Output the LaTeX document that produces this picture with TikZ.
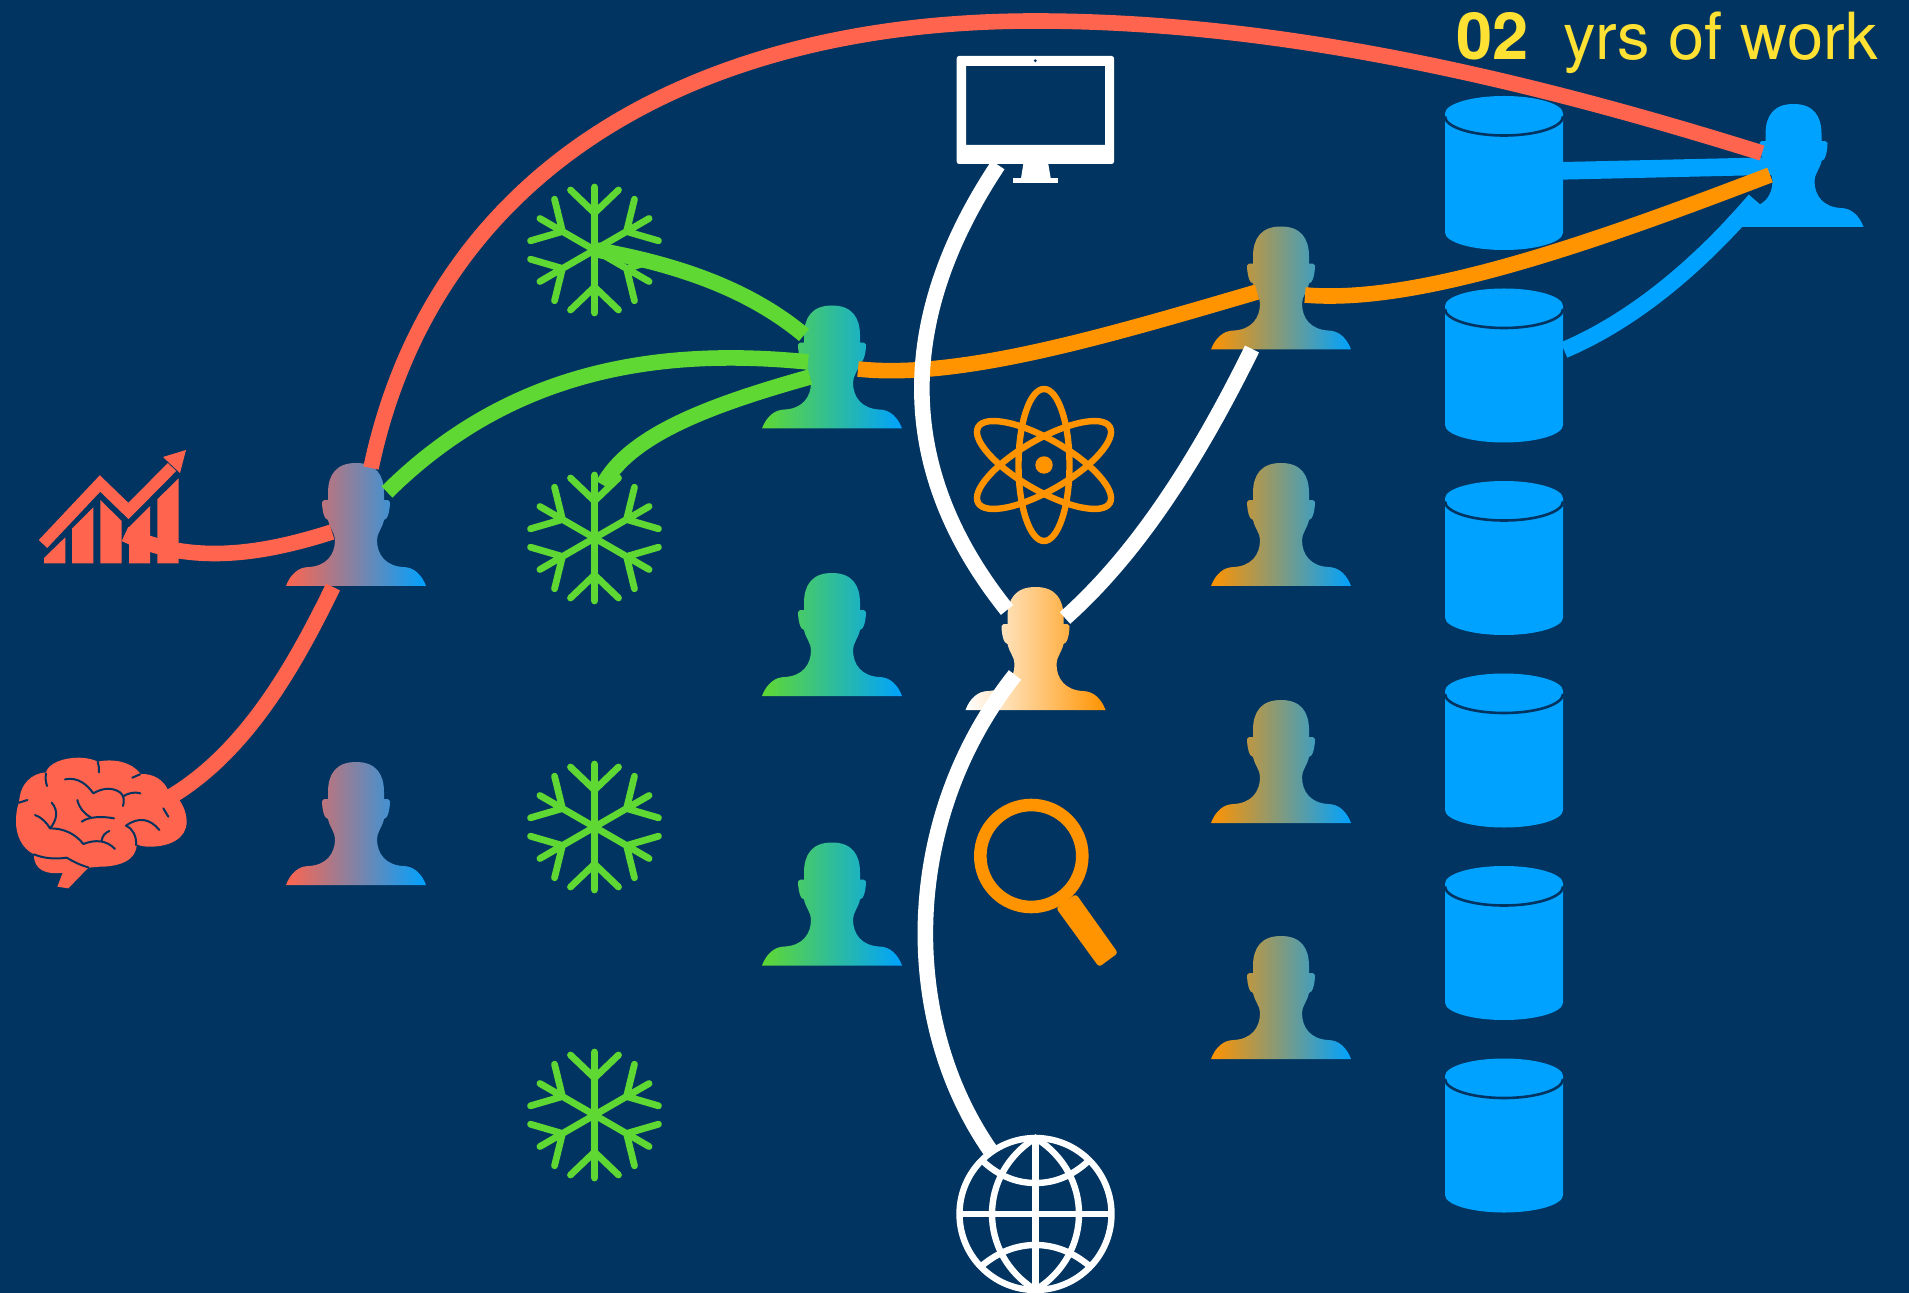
\documentclass[tikz,border=0pt]{standalone}
\usepackage{fontspec}
\setmainfont{TeX Gyre Heros}
\definecolor{bgc}{HTML}{013461}
\definecolor{redc}{HTML}{FF644E}
\definecolor{greenc}{HTML}{5FD833}
\definecolor{orangec}{HTML}{FF9300}
\definecolor{bluec}{HTML}{00A2FF}
\definecolor{yellowc}{HTML}{FEE133}
\tikzset{
  wire/.style={line width=7.8pt,line cap=butt},
  snowline/.style={draw=greenc,line width=3.4pt,line cap=round,line join=round},
  anchorbox/.style={inner sep=0pt,outer sep=0pt},
  brainvein/.style={draw=bgc,line width=1pt,line cap=round,line join=round},
  whiteline/.style={draw=white,line width=3.2pt},
  atomline/.style={draw=orangec,line width=3.2pt},
}
\newcommand{\person}[5]{%
  \path[left color=#4,right color=#5,shift={(#2,#3)}]
    (0,0) .. controls (20,0) and (28,12) .. (28,30) -- (28,37)
    .. controls (31,37) and (34,37) .. (34,39) .. controls (34,46) and (32,57) .. (28,57)
    .. controls (26,66) and (21,70) .. (21,77)
    .. controls (21,92) and (30,103) .. (47,104)
    .. controls (58,104) and (66,112) .. (70,123) -- (-70,123)
    .. controls (-66,112) and (-58,104) .. (-47,104)
    .. controls (-30,103) and (-21,92) .. (-21,77)
    .. controls (-21,70) and (-26,66) .. (-28,57)
    .. controls (-32,57) and (-34,46) .. (-34,39) .. controls (-34,37) and (-31,37) .. (-28,37)
    -- (-28,30) .. controls (-28,12) and (-20,0) .. (0,0) -- cycle;
  \node[anchorbox,minimum width=70pt,minimum height=61pt] (#1) at (#2,#3+61) {};
}
\newcommand{\snowflake}[3]{%
  \foreach \a in {0,60,...,300}{
    \draw[snowline,shift={(#2,#3)},rotate=\a] (0,0) -- (0,-63) (-24,-60) -- (0,-37) -- (24,-60);
  }
  \node[anchorbox,minimum size=66pt] (#1) at (#2,#3) {};
}
\newcommand{\cylinder}[2]{%
  \fill[bluec,shift={(1504,#2)}] (-59,0) arc[start angle=180,end angle=0,x radius=59,y radius=-17.5]
     -- (59,119) arc[start angle=0,end angle=-180,x radius=59,y radius=-17.5] -- cycle;
  \draw[bgc,line width=1.3pt,shift={(1504,#2)}] (-59,3) arc[start angle=180,end angle=360,x radius=59,y radius=-19];
  \node[anchorbox,minimum width=59pt,minimum height=77pt] (#1) at (1504,#2+60) {};
}
\begin{document}
\begin{tikzpicture}[x=0.5pt,y=-0.5pt]
\useasboundingbox (0,0) rectangle (1909,1293);
\fill[bgc] (0,0) rectangle (1909,1293);

% people
\person{pa}{356}{463}{redc}{bluec}
\person{pb}{356}{762}{redc}{bluec}
\person{ga}{832}{305.5}{greenc}{bluec}
\person{gb}{832}{573}{greenc}{bluec}
\person{gc}{832}{842.5}{greenc}{bluec}
\person{oa}{1281}{226.5}{orangec}{bluec}
\person{ob}{1281}{463}{orangec}{bluec}
\person{oc}{1281}{700}{orangec}{bluec}
\person{od}{1281}{936}{orangec}{bluec}
\person{wa}{1035.5}{587}{white}{orangec}
\person{ba}{1793.5}{104}{bluec}{bluec}

% snowflakes
\snowflake{sa}{594.5}{250}
\snowflake{sb}{594.5}{538}
\snowflake{sc}{594.5}{827}
\snowflake{sd}{594.5}{1115}

% cylinders
\cylinder{ca}{113.5}
\cylinder{cb}{306}
\cylinder{cc}{498.5}
\cylinder{cd}{691}
\cylinder{ce}{883.5}
\cylinder{cf}{1076}

% chart
\fill[redc] (44,558) -- (65.3,537.3) -- (65.3,563.5) -- (44,563.5) -- cycle;
\fill[redc] (72,528.7) -- (93.3,507.3) -- (93.3,563.5) -- (72,563.5) -- cycle;
\fill[redc] (100.3,500) -- (121.7,521) -- (121.7,563.5) -- (100.3,563.5) -- cycle;
\fill[redc] (129,527) -- (150,506) -- (150,563.5) -- (129,563.5) -- cycle;
\fill[redc] (157.3,499.3) -- (178.7,478.3) -- (178.7,563.5) -- (157.3,563.5) -- cycle;
\draw[redc,line width=5.8pt,line join=miter] (43,544) -- (100,483.5) -- (128.5,511) -- (172,467);
\fill[redc] (186,450) -- (163,457) -- (180,473) -- cycle;
\node[anchorbox,minimum width=36pt,minimum height=28pt] (chart) at (115,507) {};

% brain
\begin{scope}[shift={(0,430)},x=0.16667pt,y=-0.16667pt]
\fill[redc] (57,1118)
 .. controls (60,1060) and (95,1030) .. (138,1027)
 .. controls (145,1000) and (190,983) .. (235,983)
 .. controls (262,983) and (285,990) .. (293,995)
 .. controls (340,985) and (395,995) .. (422,1032)
 .. controls (460,1030) and (490,1050) .. (503,1078)
 .. controls (540,1100) and (560,1140) .. (560,1175)
 .. controls (560,1225) and (510,1250) .. (450,1250)
 .. controls (435,1250) and (420,1248) .. (410,1243)
 .. controls (410,1290) and (360,1310) .. (300,1310)
 -- (265,1313) -- (205,1375) -- (172,1370) -- (188,1328)
 .. controls (140,1335) and (100,1320) .. (102,1273)
 .. controls (65,1255) and (48,1215) .. (48,1175)
 .. controls (48,1155) and (50,1135) .. (57,1118) -- cycle;
\draw[brainvein] (138,1030) .. controls (136,1045) and (137,1055) .. (141,1068);
\draw[brainvein] (293,995) .. controls (297,1005) and (297,1016) .. (297,1027);
\draw[brainvein] (397,1043) -- (420,1033);
\draw[brainvein] (195,1048) .. controls (235,1040) and (262,1065) .. (280,1090)
  .. controls (305,1075) and (335,1070) .. (360,1087) .. controls (375,1098) and (372,1115) .. (369,1128);
\draw[brainvein] (368,1100) .. controls (385,1088) and (405,1085) .. (421,1090);
\draw[brainvein] (232,1110) .. controls (238,1135) and (252,1150) .. (272,1162);
\draw[brainvein] (245,1175) .. controls (265,1160) and (305,1158) .. (342,1165);
\draw[brainvein] (155,1118) .. controls (175,1140) and (172,1170) .. (150,1195);
\draw[brainvein] (105,1155) .. controls (125,1162) and (140,1178) .. (150,1195)
  .. controls (190,1195) and (225,1210) .. (250,1242)
  .. controls (285,1228) and (320,1230) .. (345,1257);
\draw[brainvein] (305,1232) .. controls (307,1218) and (315,1208) .. (328,1203);
\draw[brainvein] (57,1118) -- (82,1110);
\draw[brainvein] (102,1273) .. controls (130,1285) and (165,1288) .. (200,1283)
  .. controls (220,1295) and (240,1305) .. (265,1312);
\draw[brainvein] (378,1187) .. controls (400,1197) and (410,1220) .. (408,1245);
\draw[brainvein] (378,1187) .. controls (415,1160) and (450,1165) .. (478,1200);
\draw[brainvein] (490,1135) -- (505,1160);
\end{scope}
\node[anchorbox,minimum width=43pt,minimum height=32pt] (brain) at (100,825) {};

% monitor
\fill[white,rounded corners=1.2pt,even odd rule] (956.7,56) rectangle (1114,164) (966,66) [sharp corners] rectangle (1105,145);
\fill[white] (1023.3,164) -- (1048.3,164) -- (1050.7,178.3) -- (1021,178.3) -- cycle;
\fill[white] (1012.7,178.3) rectangle (1058.3,182.7);
\fill[bgc] (1035.3,60.7) circle[radius=1.6];
\node[anchorbox,minimum width=79pt,minimum height=64pt] (monitor) at (1035.5,120) {};

% globe
\begin{scope}[shift={(1035.5,1214)}]
\draw[whiteline] (0,0) circle[radius=76];
\draw[whiteline] (0,-76) -- (0,76) (-76,0) -- (76,0);
\draw[whiteline] (0,-76) .. controls (-58,-40) and (-58,40) .. (0,76) .. controls (58,40) and (58,-40) .. (0,-76) -- cycle;
\draw[whiteline] (-54,-54) .. controls (-36,-37) and (-18,-31) .. (0,-31) .. controls (18,-31) and (36,-37) .. (54,-54);
\draw[whiteline] (-54,52) .. controls (-36,37) and (-18,31) .. (0,31) .. controls (18,31) and (36,37) .. (54,52);
\end{scope}
\node[anchorbox,minimum size=79pt] (globe) at (1035.5,1214) {};

% atom
\begin{scope}[shift={(1044,465)}]
\foreach \a in {0,60,120}{
  \draw[atomline,rotate=\a] (0,0) ellipse[x radius=25.5,y radius=76];
}
\fill[orangec] (0,0) circle[radius=8.7];
\end{scope}
\node[anchorbox,minimum size=70pt] (atom) at (1044,465) {};

% magnifier
\draw[orangec,line width=6.3pt] (1031.3,856) circle[radius=51];
\fill[orangec,rounded corners=1.5pt] (1056,908) -- (1076,894) -- (1118,953) -- (1099,967) -- cycle;
\node[anchorbox,minimum size=70pt] (lens) at (1060,895) {};

% connector ends
\coordinate (r1) at (371,468);
\coordinate (r2) at (1035,21);
\coordinate (r3) at (1762,153);
\coordinate (r4) at (125,534);
\coordinate (r5) at (332,532);
\coordinate (r6) at (165,800);
\coordinate (r7) at (333,587);
\coordinate (g1) at (387,492);
\coordinate (g2) at (808,362);
\coordinate (g3) at (597,250);
\coordinate (g4) at (804,335);
\coordinate (g5) at (603,485);
\coordinate (g6) at (810,377);
\coordinate (o1) at (858,369);
\coordinate (o2) at (1257,292);
\coordinate (o3) at (1305,295);
\coordinate (o4) at (1770,175);
\coordinate (b1) at (1555,171);
\coordinate (b2) at (1775,166);
\coordinate (b3) at (1564,350);
\coordinate (b4) at (1755,200);
\coordinate (w1) at (998,165);
\coordinate (w2) at (1007,610);
\coordinate (w3) at (1065,618);
\coordinate (w4) at (1252,349);
\coordinate (w5) at (1015,675);
\coordinate (w6) at (990,1150);

% connectors
\draw[wire,bluec,line width=8.8pt] (b1) -- (b2);
\draw[wire,bluec,line width=8.3pt] (b3) .. controls (1630,322) and (1695,270) .. (b4);
\draw[wire,redc] (r1) .. controls (435,165) and (700,21) .. (r2) .. controls (1300,21) and (1560,90) .. (r3);
\draw[wire,redc] (r4) .. controls (190,565) and (260,555) .. (r5);
\draw[wire,redc] (r6) .. controls (245,755) and (295,665) .. (r7);
\draw[wire,greenc] (g1) .. controls (500,380) and (640,345) .. (g2);
\draw[wire,greenc] (g3) .. controls (680,265) and (750,290) .. (g4);
\draw[wire,greenc] (g5) .. controls (630,435) and (710,405) .. (g6);
\draw[wire,orangec] (o1) .. controls (960,380) and (1110,335) .. (o2);
\draw[wire,orangec] (o3) .. controls (1420,305) and (1600,240) .. (o4);
\draw[wire,white] (w1) .. controls (895,320) and (895,470) .. (w2);
\draw[wire,white] (w3) .. controls (1130,560) and (1190,475) .. (w4);
\draw[wire,white] (w5) .. controls (900,820) and (900,1020) .. (w6);

% title
\node[anchor=base west,inner sep=0pt,text=yellowc,font=\fontsize{32.5pt}{36pt}\selectfont\bfseries] (num) at (1456,60) {02};
\node[anchor=base west,inner sep=0pt,text=yellowc,font=\fontsize{32.5pt}{36pt}\selectfont] (lbl) at (1563,60) {yrs of work};
\end{tikzpicture}
\end{document}
